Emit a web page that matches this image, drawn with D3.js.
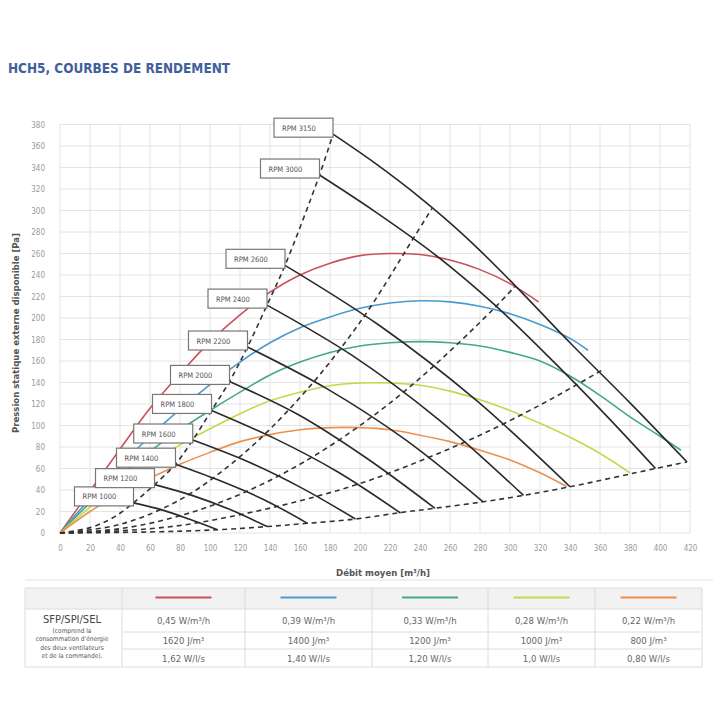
<!DOCTYPE html>
<html>
<head>
<meta charset="utf-8">
<script src="https://cdn.jsdelivr.net/npm/d3@7"></script>
<style>
  body { margin: 0; background: #fff; }
  text { font-family: "DejaVu Sans Condensed", "Roboto", sans-serif; }
</style>
</head>
<body>
<div id="chart"></div>
<script>
//axis ticks
var xTicks = [0, 20, 40, 60, 80, 100, 120, 140, 160, 180, 200, 220, 240, 260, 280, 300, 320, 340, 360, 380, 400, 420];
var yTicks = [0, 20, 40, 60, 80, 100, 120, 140, 160, 180, 200, 220, 240, 260, 280, 300, 320, 340, 360, 380];

//efficiency curves [debit, pression]
var redCurve = [[0, 0], [20, 39], [40, 78], [60, 116], [80, 148], [100, 178], [120, 203], [140, 224], [160, 240], [180, 251], [200, 258], [220, 260], [240, 259], [260, 254], [280, 245], [300, 232], [319, 215]];
var blueCurve = [[0, 0], [20, 32], [40, 62], [60, 90], [80, 115], [100, 138], [120, 159], [140, 177], [160, 191], [180, 201], [200, 209], [220, 214], [240, 216], [260, 215], [280, 211], [300, 204], [320, 194], [340, 181], [352, 170]];
var greenCurve = [[0, 0], [20, 28], [40, 53], [60, 76], [80, 96], [100, 114], [120, 131], [140, 147], [160, 159], [180, 168], [200, 174], [220, 177], [240, 178], [260, 177], [280, 174], [300, 168], [320, 160], [340, 146], [360, 128], [380, 108], [400, 90], [414, 77]];
var limeCurve = [[0, 0], [20, 24], [40, 46], [60, 65], [80, 82], [100, 97], [120, 111], [140, 123], [160, 131], [180, 137], [200, 139.5], [220, 139.5], [240, 137.5], [260, 132], [280, 124], [300, 114], [320, 102], [340, 89], [360, 74], [380, 56]];
var orangeCurve = [[0, 0], [20, 20], [40, 37], [60, 51], [80, 64], [100, 75], [120, 85], [140, 91.5], [160, 96], [180, 98], [200, 98], [220, 96], [240, 91], [260, 85], [280, 77], [300, 68], [320, 56], [338, 43]];

var effCurves = [redCurve, blueCurve, greenCurve, limeCurve, orangeCurve];
var effColors = ["#c9505a", "#4a9ad0", "#45a88c", "#c3d84b", "#ec9050"];

//fan curves per speed
var rpmNames = ["RPM 1000", "RPM 1200", "RPM 1400", "RPM 1600", "RPM 1800", "RPM 2000", "RPM 2200", "RPM 2400", "RPM 2600", "RPM 3000", "RPM  3150"];
var rpmCurves = [
    [[49, 28], [68, 21.5], [86, 13], [105, 3]],
    [[63, 45], [88, 35], [113, 22], [138, 6]],
    [[77, 64], [106, 49], [136, 31], [165, 9]],
    [[88.5, 86.5], [125, 66.5], [161, 42], [197, 13]],
    [[101, 114], [143, 88], [185, 57], [227, 18.6]],
    [[113, 141], [159, 110], [204, 70], [250, 23]],
    [[125, 173], [177, 135], [230, 87], [282, 29]],
    [[138, 212], [195, 165], [252, 106], [309, 35]],
    [[150, 249], [213, 193], [277, 124], [340, 43]],
    [[173, 333], [210, 299], [250, 259], [290, 212], [330, 158], [365, 108], [397, 60]],
    [[182, 371], [210, 344], [240, 312], [270, 276], [300, 235], [340, 177], [380, 121], [418, 66]]
];

//system curves (dashed)
var sysCurves = [
    [[0, 0], [20, 5], [35, 14], [49, 28], [63, 45], [77, 64], [88.5, 86.5], [101, 114], [113, 141], [125, 173], [138, 212], [150, 249], [173, 333], [182, 371]],
    [[0, 0], [40, 8], [80, 31], [120, 71], [160, 126], [200, 196], [235.5, 274], [248, 302]],
    [[0, 0], [40, 4], [80, 16], [120, 36], [160, 64], [200, 100], [240, 144], [288, 207], [303, 229]],
    [[0, 0], [40, 2], [80, 7], [120, 17], [160, 30], [200, 46], [240, 67], [280, 91], [320, 119], [342, 136], [362, 152]],
    [[0, 0], [60, 1], [105, 3], [138, 6], [165, 9], [197, 13], [227, 19], [250, 23], [282, 29], [309, 35], [340, 43], [397, 60], [418, 66]]
];

//table rows
var sfpRow = ["0,45 W/m\u00b3/h", "0,39 W/m\u00b3/h", "0,33 W/m\u00b3/h", "0,28 W/m\u00b3/h", "0,22 W/m\u00b3/h"];
var spiRow = ["1620 J/m\u00b3", "1400 J/m\u00b3", "1200 J/m\u00b3", "1000 J/m\u00b3", "800 J/m\u00b3"];
var selRow = ["1,62 W/l/s", "1,40 W/l/s", "1,20 W/l/s", "1,0 W/l/s", "0,80 W/l/s"];
var noteLines = ["(comprend la", "consommation d'\u00e9nergie", "des deux ventilateurs", "et de la commande)."];

var svg = d3.select("#chart").append("svg")
    .attr("width", 720)
    .attr("height", 720);

//title
svg.append("text")
    .attr("x", 8)
    .attr("y", 73)
    .attr("font-size", "14px")
    .attr("font-weight", "bold")
    .attr("fill", "#40609a")
    .attr("textLength", 222)
    .attr("lengthAdjust", "spacingAndGlyphs")
    .text("HCH5, COURBES DE RENDEMENT");

//scales
var x = d3.scaleLinear().domain([0, 420]).range([60, 690]);
var y = d3.scaleLinear().domain([0, 380]).range([533, 124.5]);

//grid
svg.append("g")
    .selectAll("line.v")
    .data(xTicks)
    .enter()
    .append("line")
    .attr("x1", d => x(d)).attr("x2", d => x(d))
    .attr("y1", y(0)).attr("y2", y(380))
    .attr("stroke", "#e4e4e4");

svg.append("g")
    .selectAll("line.h")
    .data(yTicks)
    .enter()
    .append("line")
    .attr("x1", x(0)).attr("x2", x(420))
    .attr("y1", d => y(d)).attr("y2", d => y(d))
    .attr("stroke", "#e4e4e4");

//axes, labels only
var xAxis = svg.append("g")
    .attr("transform", `translate(0, ${y(0)})`)
    .call(d3.axisBottom(x).tickValues(xTicks).tickSize(0).tickPadding(12));
var yAxis = svg.append("g")
    .attr("transform", `translate(${x(0)}, 0)`)
    .call(d3.axisLeft(y).tickValues(yTicks).tickSize(0).tickPadding(15));

[xAxis, yAxis].forEach(function(ax) {
    ax.select(".domain").remove();
    ax.selectAll("text")
        .attr("font-family", "DejaVu Sans Condensed")
        .attr("font-size", "8px")
        .attr("fill", "#9a9a9a");
});

//axis titles
svg.append("text")
    .attr("transform", `translate(19, 333) rotate(-90)`)
    .attr("text-anchor", "middle")
    .attr("font-size", "9.5px")
    .attr("font-weight", "bold")
    .attr("fill", "#555")
    .text("Pression statique externe disponible [Pa]");

svg.append("text")
    .attr("x", 383)
    .attr("y", 576)
    .attr("text-anchor", "middle")
    .attr("font-size", "9.5px")
    .attr("font-weight", "bold")
    .attr("fill", "#555")
    .text("D\u00e9bit moyen [m\u00b3/h]");

var line = d3.line()
    .x(d => x(d[0]))
    .y(d => y(d[1]))
    .curve(d3.curveCatmullRom.alpha(0.5));

//efficiency curves
svg.append("g")
    .selectAll("path")
    .data(effCurves)
    .enter()
    .append("path")
    .attr("d", line)
    .attr("fill", "none")
    .attr("stroke", (d, i) => effColors[i])
    .attr("stroke-width", 1.6);

//system curves
svg.append("g")
    .selectAll("path")
    .data(sysCurves)
    .enter()
    .append("path")
    .attr("d", line)
    .attr("fill", "none")
    .attr("stroke", "#333")
    .attr("stroke-width", 1.6)
    .attr("stroke-dasharray", "5,4");

//fan curves
svg.append("g")
    .selectAll("path")
    .data(rpmCurves)
    .enter()
    .append("path")
    .attr("d", line)
    .attr("fill", "none")
    .attr("stroke", "#2a2a2a")
    .attr("stroke-width", 1.6);

//rpm label boxes
var boxes = svg.append("g")
    .selectAll("g")
    .data(rpmCurves)
    .enter()
    .append("g")
    .attr("transform", d => `translate(${x(d[0][0]) - 59}, ${y(d[0][1]) - 16})`);

boxes.append("rect")
    .attr("width", 59)
    .attr("height", 19)
    .attr("fill", "#fff")
    .attr("stroke", "#777")
    .attr("stroke-width", 1.2);

boxes.append("text")
    .attr("x", 8)
    .attr("y", 12.5)
    .attr("font-size", "7.5px")
    .attr("fill", "#555")
    .text((d, i) => rpmNames[i]);

//table
var colEdges = [25, 122, 245, 372, 488, 595, 702];
var rowEdges = [588, 609, 632, 649, 667];
var table = svg.append("g");

table.append("line")
    .attr("x1", 25).attr("x2", 713)
    .attr("y1", 580).attr("y2", 580)
    .attr("stroke", "#e2e2e2");

table.append("rect")
    .attr("x", colEdges[0]).attr("y", rowEdges[0])
    .attr("width", colEdges[6] - colEdges[0])
    .attr("height", rowEdges[1] - rowEdges[0])
    .attr("fill", "#f2f2f2");

//row lines
table.selectAll("line.row")
    .data(rowEdges)
    .enter()
    .append("line")
    .attr("x1", (d, i) => (i == 2 || i == 3) ? colEdges[1] : colEdges[0])
    .attr("x2", colEdges[6])
    .attr("y1", d => d).attr("y2", d => d)
    .attr("stroke", "#dcdcdc");

//column lines
table.selectAll("line.col")
    .data(colEdges)
    .enter()
    .append("line")
    .attr("x1", d => d).attr("x2", d => d)
    .attr("y1", rowEdges[0]).attr("y2", rowEdges[4])
    .attr("stroke", "#dcdcdc");

//legend strokes in header
table.selectAll("line.key")
    .data(effColors)
    .enter()
    .append("line")
    .attr("x1", (d, i) => (colEdges[i + 1] + colEdges[i + 2]) / 2 - 28)
    .attr("x2", (d, i) => (colEdges[i + 1] + colEdges[i + 2]) / 2 + 28)
    .attr("y1", 597.5).attr("y2", 597.5)
    .attr("stroke", d => d)
    .attr("stroke-width", 2);

//value rows
[sfpRow, spiRow, selRow].forEach(function(row, r) {
    table.selectAll(null)
        .data(row)
        .enter()
        .append("text")
        .attr("x", (d, i) => (colEdges[i + 1] + colEdges[i + 2]) / 2)
        .attr("y", (rowEdges[r + 1] + rowEdges[r + 2]) / 2 + 3.5)
        .attr("text-anchor", "middle")
        .attr("font-size", "9.5px")
        .attr("fill", "#666")
        .text(d => d);
});

//first column
table.append("text")
    .attr("x", 72).attr("y", 623)
    .attr("text-anchor", "middle")
    .attr("font-size", "11px")
    .attr("fill", "#444")
    .text("SFP/SPI/SEL");

table.selectAll("text.note")
    .data(noteLines)
    .enter()
    .append("text")
    .attr("x", 72)
    .attr("y", (d, i) => 632.5 + i * 8.5)
    .attr("text-anchor", "middle")
    .attr("font-size", "6.5px")
    .attr("fill", "#555")
    .text(d => d);
</script>
</body>
</html>
